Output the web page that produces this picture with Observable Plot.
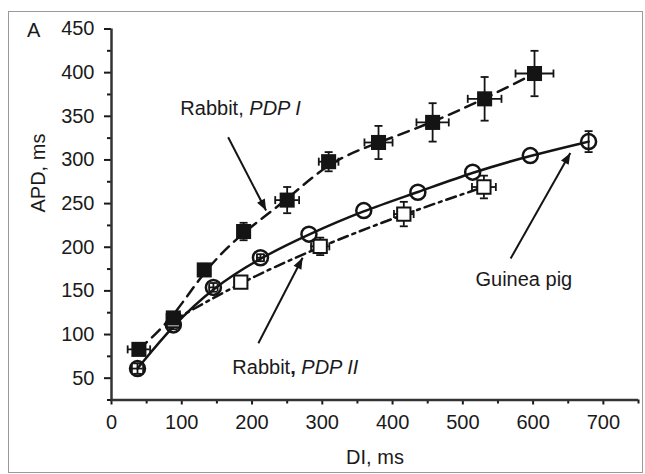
<!DOCTYPE html>
<html><head><meta charset="utf-8">
<script src="https://cdn.jsdelivr.net/npm/d3@7"></script>
<script src="https://cdn.jsdelivr.net/npm/@observablehq/plot@0.6"></script>
<style>
body{margin:0;background:#fff;}
#wrap{position:relative;width:645px;height:474px;overflow:hidden;}
#frame{position:absolute;left:8px;top:11px;width:635px;height:462px;border:1px solid #999;box-sizing:border-box;pointer-events:none;}
#panel{position:absolute;left:27px;top:20px;font:20px 'Liberation Sans',Arial,sans-serif;line-height:20px;color:#1a1a1a;}
</style></head><body>
<div id="wrap"><div id="frame"></div><div id="panel">A</div></div>
<script>
// ---- data ----
// Rabbit, PDP I (filled squares, dashed)
const pdp1DI     = [39, 88, 132, 188, 250, 309, 380, 457, 531, 602];
const pdp1APD    = [83, 119, 174, 218, 254, 298, 320, 343, 370, 399];
const pdp1DIerr  = [16, 4, 4, 8, 17, 14, 20, 23, 24, 27];
const pdp1APDerr = [4, 4, 7, 10, 15, 11, 19, 22, 25, 26];
// Guinea pig (open circles, solid)
const gpDI     = [37, 88, 145, 212, 281, 359, 436, 514, 596, 679];
const gpAPD    = [61, 111, 154, 188, 215, 242, 263, 286, 305, 321];
const gpDIerr  = [8, 6, 6, 5, 0, 0, 0, 0, 0, 0];
const gpAPDerr = [6, 5, 5, 4, 0, 0, 0, 0, 0, 12];
// Rabbit, PDP II (open squares, dash-dot)
const pdp2DI     = [88, 184, 297, 416, 530];
const pdp2APD    = [116, 160, 201, 238, 269];
const pdp2DIerr  = [4, 5, 13, 14, 17];
const pdp2APDerr = [4, 5, 10, 14, 13];
// axis ticks
const xMajor = [0, 100, 200, 300, 400, 500, 600, 700];
const xMinor = [50, 150, 250, 350, 450, 550, 650, 750];
const yMajor = [50, 100, 150, 200, 250, 300, 350, 400, 450];
const yMinor = [25, 75, 125, 175, 225, 275, 325, 375, 425];
const xTitle = "DI, ms", yTitle = "APD, ms";
// annotations
const labelText = ["Rabbit, PDP I", "Guinea pig", "Rabbit, PDP II"];
const labelDI   = [98, 518, 172];
const labelAPD  = [359, 163, 62];
const arrowFromDI  = [166, 568, 209];
const arrowFromAPD = [326, 187, 90];
const arrowToDI    = [220, 653, 272];
const arrowToAPD   = [242, 308, 188];

// ---- layout ----
const W = 645, H = 474, mL = 111, mR = 7, mT = 28.5, mB = 74.5;
const xDomain = [0, 750], yDomain = [25, 450];
const ink = "#141414";

const rows = (xs, ys, exs, eys) => xs.map((x, i) => ({x, y: ys[i], ex: exs[i], ey: eys[i]}));
const pdp1 = rows(pdp1DI, pdp1APD, pdp1DIerr, pdp1APDerr);
const gp   = rows(gpDI, gpAPD, gpDIerr, gpAPDerr);
const pdp2 = rows(pdp2DI, pdp2APD, pdp2DIerr, pdp2APDerr);
const labels = labelText.map((t, i) => ({t, x: labelDI[i], y: labelAPD[i]}));

const sx = Plot.scale({x: {domain: xDomain, range: [mL, W - mR]}});
const sy = Plot.scale({y: {domain: yDomain, range: [H - mB, mT]}});
const arrows = arrowFromDI.map((x1, i) => {
  const x2 = arrowToDI[i], y1 = arrowFromAPD[i], y2 = arrowToAPD[i];
  const dx = sx.apply(x2) - sx.apply(x1), dy = sy.apply(y2) - sy.apply(y1);
  return {x1, y1, x2, y2, rot: Math.atan2(dx, -dy) * 180 / Math.PI};
});

const hcap = {draw(ctx, size) { const r = Math.sqrt(size / Math.PI); ctx.moveTo(-r, 0); ctx.lineTo(r, 0); }};
const vcap = {draw(ctx, size) { const r = Math.sqrt(size / Math.PI); ctx.moveTo(0, -r); ctx.lineTo(0, r); }};
const head = {draw(ctx, size) { const r = Math.sqrt(size / Math.PI); ctx.moveTo(0, 0); ctx.lineTo(-r * 0.55, r * 1.4); ctx.lineTo(r * 0.55, r * 1.4); ctx.closePath(); }};

function errorMarks(data) {
  const v = data.filter(d => d.ey > 0), h = data.filter(d => d.ex > 0);
  return [
    Plot.ruleX(v, {x: "x", y1: d => d.y - d.ey, y2: d => d.y + d.ey, stroke: ink, strokeWidth: 1.8}),
    Plot.ruleY(h, {y: "y", x1: d => d.x - d.ex, x2: d => d.x + d.ex, stroke: ink, strokeWidth: 1.8}),
    Plot.dot(v, {x: "x", y: d => d.y - d.ey, symbol: hcap, r: 4, stroke: ink, strokeWidth: 1.8}),
    Plot.dot(v, {x: "x", y: d => d.y + d.ey, symbol: hcap, r: 4, stroke: ink, strokeWidth: 1.8}),
    Plot.dot(h, {x: d => d.x - d.ex, y: "y", symbol: vcap, r: 4, stroke: ink, strokeWidth: 1.8}),
    Plot.dot(h, {x: d => d.x + d.ex, y: "y", symbol: vcap, r: 4, stroke: ink, strokeWidth: 1.8})
  ];
}

const chart = Plot.plot({
  width: W, height: H,
  marginLeft: mL, marginRight: mR, marginTop: mT, marginBottom: mB,
  x: {domain: xDomain}, y: {domain: yDomain},
  style: {fontFamily: "'Liberation Sans', Arial, sans-serif", fontSize: "20px", color: "#1a1a1a", background: "transparent", overflow: "visible"},
  marks: [
    Plot.axisY({ticks: yMinor, tickSize: 4, tickFormat: () => "", strokeWidth: 2, label: null}),
    Plot.axisY({ticks: yMajor, tickSize: 7, tickPadding: 10, strokeWidth: 2, label: null}),
    Plot.axisX({ticks: xMinor, tickSize: 4, tickFormat: () => "", strokeWidth: 2, label: null}),
    Plot.axisX({ticks: xMajor, tickSize: 5, tickPadding: 10, strokeWidth: 2, label: null}),
    Plot.text([yTitle], {frameAnchor: "left", dx: -73, dy: -2, rotate: -90, fill: "#1a1a1a", fontSize: 20}),
    Plot.text([xTitle], {frameAnchor: "bottom", dy: 64, fill: "#1a1a1a", fontSize: 20}),
    Plot.ruleX([0], {stroke: "#333", strokeWidth: 2.5}),
    Plot.ruleY([25], {stroke: "#333", strokeWidth: 2.5}),
    Plot.line(pdp2, {x: "x", y: "y", curve: "basis", stroke: ink, strokeWidth: 2.5, strokeDasharray: "10,5,3,5"}),
    Plot.line(gp, {x: "x", y: "y", curve: "basis", stroke: ink, strokeWidth: 2.5}),
    Plot.line(pdp1, {x: "x", y: "y", curve: "basis", stroke: ink, strokeWidth: 2.5, strokeDasharray: "11,7"}),
    ...errorMarks(pdp2),
    ...errorMarks(gp),
    ...errorMarks(pdp1),
    Plot.dot(pdp2, {x: "x", y: "y", symbol: "square", r: 7.5, fill: "white", stroke: ink, strokeWidth: 2}),
    Plot.dot(gp, {x: "x", y: "y", symbol: "circle", r: 7.5, fill: "none", stroke: ink, strokeWidth: 2.5}),
    Plot.dot(pdp1, {x: "x", y: "y", symbol: "square", r: 8.5, fill: ink}),
    Plot.link(arrows, {x1: "x1", y1: "y1", x2: "x2", y2: "y2", stroke: ink, strokeWidth: 2}),
    Plot.dot(arrows, {x: "x2", y: "y2", symbol: head, r: 8, rotate: "rot", fill: ink, stroke: "none"}),
    Plot.text(labels, {x: "x", y: "y", text: "t", textAnchor: "start", fill: "#1a1a1a", fontSize: 20})
  ]
});

// italic / bold parts of the annotation labels
d3.select(chart).selectAll("text").each(function() {
  const s = this.textContent;
  if (!labelText.includes(s)) return;
  const k = s.indexOf(", ");
  if (k < 0) return;
  const it = s.slice(k + 2);
  while (this.firstChild) this.removeChild(this.firstChild);
  const sel = d3.select(this);
  sel.append("tspan").text(s.slice(0, k));
  const c = sel.append("tspan").text(",");
  if (it === "PDP II") c.attr("font-weight", "bold");
  sel.append("tspan").text(" ");
  sel.append("tspan").attr("font-style", "italic").text(it);
});

chart.style.position = "absolute";
chart.style.left = "0";
chart.style.top = "0";
document.getElementById("wrap").prepend(chart);
</script>
</body></html>
